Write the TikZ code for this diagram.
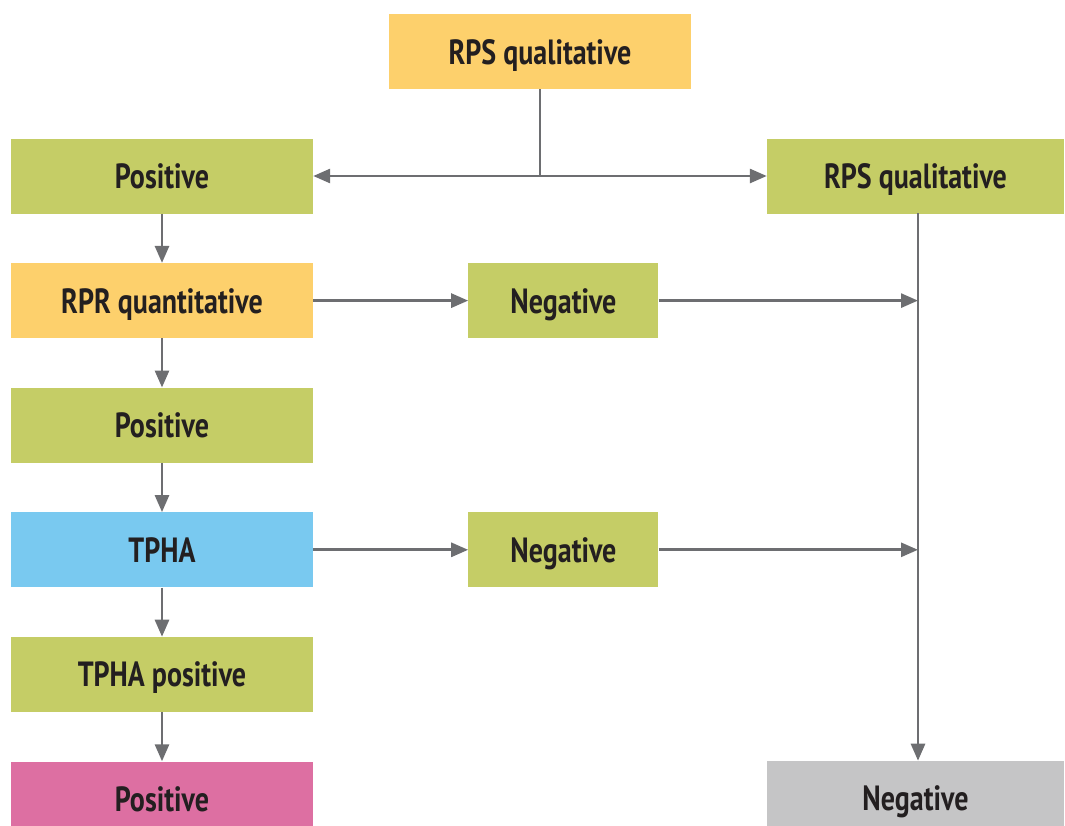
\documentclass[tikz,border=0pt]{standalone}
\usepackage{fontspec}
\setmainfont{PT Sans}[FakeStretch=0.8]
\usepackage{xcolor}
\usetikzlibrary{positioning, arrows.meta}
\definecolor{cYel}{HTML}{FDD06C}
\definecolor{cGrn}{HTML}{C5CD66}
\definecolor{cBlu}{HTML}{79C9F0}
\definecolor{cPnk}{HTML}{DD6FA2}
\definecolor{cGry}{HTML}{C5C5C6}
\definecolor{cLine}{HTML}{6D6E71}
\definecolor{cTxt}{HTML}{231F20}
\tikzset{
  box/.style={
    rectangle, draw=none, fill=#1,
    minimum width=302pt, minimum height=75pt,
    inner sep=0pt, align=center,
    text height=30pt, text depth=5pt,
    font=\fontsize{35}{40}\selectfont\bfseries, text=cTxt
  },
  nbox/.style={
    box=#1, minimum width=190pt
  },
  arr/.style={
    -{Triangle[length=17pt, width=14pt]}, line width=2.8pt, color=cLine
  },
  ln/.style={
    line width=2.8pt, color=cLine
  }
}

\begin{document}
\begin{tikzpicture}[x=1pt, y=-1pt, node distance=49.2pt]

\useasboundingbox (0,0) rectangle (1065,825);
\clip (0,0) rectangle (1065,825);

%% ── Nodes ────────────────────────────────────────────────────────

% top test
\node[box=cYel] (rps) at (540,51.5) {RPS qualitative};

% left column
\node[box=cGrn] (pos1) at (162,176) {Positive};
\node[box=cYel, below=of pos1] (rpr) {RPR quantitative};
\node[box=cGrn, below=of rpr] (pos2) {Positive};
\node[box=cBlu, below=of pos2] (tpha) {TPHA};
\node[box=cGrn, below=of tpha] (tphap) {TPHA positive};
\node[box=cPnk, below=of tphap] (pos3) {Positive};

% middle column
\node[nbox=cGrn, right=155pt of rpr] (neg1) {Negative};
\node[nbox=cGrn, right=155pt of tpha] (neg2) {Negative};

% right column
\node[box=cGrn, minimum width=297pt] (rps2) at (915.5,176) {RPS qualitative};
\node[box=cGry, minimum width=297pt, below=547pt of rps2] (negR) {Negative};

\coordinate (split) at (rps.south |- pos1);
\coordinate (spine) at (918,213);

%% ── Arrows ───────────────────────────────────────────────────────

% split of the first test
\draw[ln] (rps.south) -- (split);
\draw[arr] (split) -- (pos1.east);
\draw[arr] (split) -- (rps2.west);

% left column, top to bottom
\draw[arr] (pos1) -- (rpr);
\draw[arr] (rpr) -- (pos2);
\draw[arr] (pos2) -- (tpha);
\draw[arr] (tpha) -- (tphap);
\draw[arr] (tphap) -- (pos3);

% negatives
\draw[arr] (rpr.east) -- (neg1.west);
\draw[arr] (tpha.east) -- (neg2.west);
\draw[arr] (neg1.east) -- (neg1.east -| spine);
\draw[arr] (neg2.east) -- (neg2.east -| spine);

% right spine
\draw[arr] (spine) -- (spine |- negR.north);

\end{tikzpicture}
\end{document}
